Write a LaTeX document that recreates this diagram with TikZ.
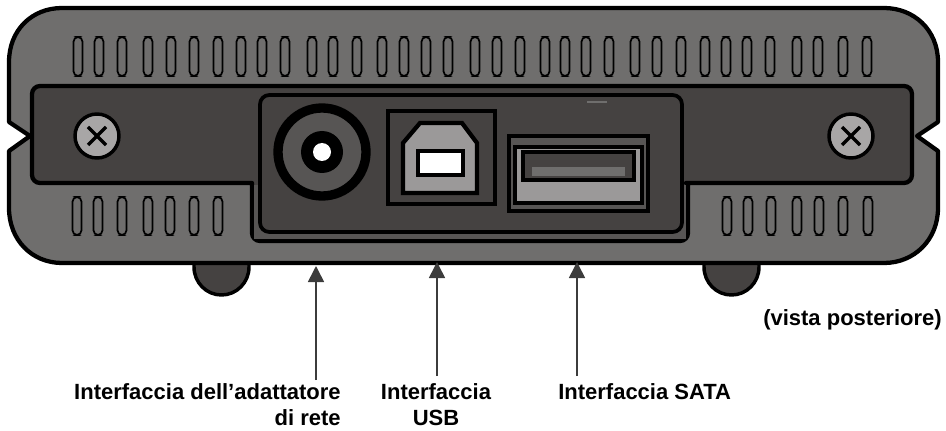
\documentclass[tikz,border=0pt]{standalone}
\usepackage{fontspec}
\setmainfont{Liberation Sans}
\usetikzlibrary{arrows.meta}
\definecolor{bodygray}{HTML}{6F6E6D}
\definecolor{paneldark}{HTML}{454241}
\definecolor{lobegray}{HTML}{575554}
\definecolor{plugair}{HTML}{9B9999}
\definecolor{screwgray}{HTML}{A8A6A6}
\definecolor{arrowgray}{HTML}{3C3C3C}
\tikzset{
  slot/.style={draw=black,line width=1.3pt,rounded corners=3.5pt},
  outline/.style={draw=black,line width=3.2pt,line join=round},
  plugline/.style={draw=black,line width=3pt},
  caption/.style={font=\bfseries\fontsize{16.5}{19.5}\selectfont,inner sep=0pt},
  pointer/.style={draw=arrowgray,line width=1.2pt,-{Triangle[width=12pt,length=12pt,fill=arrowgray]}}
}
\begin{document}
\begin{tikzpicture}[x=.75pt,y=-.75pt]
\useasboundingbox(0,0)rectangle(946,431);
%feet
\draw[outline,line width=2.6pt,fill=paneldark](194,255)--(194,267)arc(180:0:27.5 and 28)--(249,255);
\draw[outline,line width=2.6pt,fill=paneldark](704,255)--(704,267)arc(180:0:27.5 and 28)--(759,255);
%body with the two notches
\draw[outline,fill=bodygray](9,62).. controls (9,30) and (32,8) .. (62,8)--(884,8)
  .. controls (914,8) and (938,30) .. (938,62)--(938,122)--(917,136)--(938,151)--(938,208)
  .. controls (938,240) and (914,263) .. (884,263)--(62,263)
  .. controls (32,263) and (9,240) .. (9,208)--(9,151)--(30,136)--(9,122)--cycle;
%top slots
\foreach \slotx in {78,99,122,148,171,194,218,241,262,285,312,333,357,382,404,426,448,475,497,520,545,565,586,609,635,657,681,705,726,747,770,797,818,843,867}
  \draw[slot](\slotx-4.5,37)rectangle(\slotx+4.5,76);
%bottom slots
\foreach \slotx in {77,98,122,148,170,194,218,727,748,771,797,819,843,868}
  \draw[slot](\slotx-4.5,197)rectangle(\slotx+4.5,235);
%rear panel
\draw[outline,fill=paneldark,rounded corners=6pt](100,86)--(912,86)--(912,183)--(694,183)[sharp corners]--(688,183)--(688,200)[rounded corners=6pt]--(688,241)--(252,241)[sharp corners]--(252,183)--(40,183)[rounded corners=6pt]--(32,183)--(32,86)--cycle;
\fill[lobegray](254,185)--(686,185)--(686,239)--(254,239)--cycle;
\draw[outline,line width=2.8pt,fill=paneldark,rounded corners=7pt](260,95)rectangle(682,232);
%small mark
\draw[draw=bodygray,line width=1pt](587,102)--(607,102);
%power jack
\draw[line width=7pt,fill=lobegray](322,152)circle(44);
\fill[black](322,152)circle(21);
\fill[white](322,152)circle(9);
%usb b socket
\draw[plugline](388,111)rectangle(495,204);
\draw[plugline,line width=3.2pt,fill=plugair,line join=miter](403,193)--(403,143)--(420,123)--(462,123)--(477,143)--(477,193)--cycle;
\draw[plugline,fill=white](418,151)rectangle(463,175);
%sata socket
\draw[plugline,fill=lobegray](509,136)rectangle(648,211);
\draw[plugline,fill=plugair](515,147)rectangle(642,203);
\draw[plugline,fill=paneldark](523,152)rectangle(634,180);
\fill[bodygray](532,167)rectangle(625,176);
%screws
\foreach \screwx in {97,851}{
  \draw[line width=2.6pt,fill=screwgray](\screwx,136)circle(22);
  \draw[line width=2.6pt](\screwx-9,127)--(\screwx+9,145);
  \draw[line width=2.6pt](\screwx-9,145)--(\screwx+9,127);
}
%labels
\node[caption,align=right,anchor=north east](jacklabel)at(341,383){Interfaccia dell’adattatore\\di rete};
\node[caption,align=center,anchor=north](usblabel)at(436,383){Interfaccia\\USB};
\node[caption,anchor=north west](satalabel)at(558,383){Interfaccia SATA};
\node[caption,anchor=base east](viewlabel)at(942,325){(vista posteriore)};
%arrows
\coordinate(jacktip)at(316,266);
\coordinate(usbtip)at(437,262);
\coordinate(satatip)at(577,262);
\draw[pointer](jacktip|-jacklabel.north)++(0,-3)--(jacktip);
\draw[pointer](usbtip|-usblabel.north)++(0,-7)--(usbtip);
\draw[pointer](satatip|-satalabel.north)++(0,-7)--(satatip);
\end{tikzpicture}
\end{document}
